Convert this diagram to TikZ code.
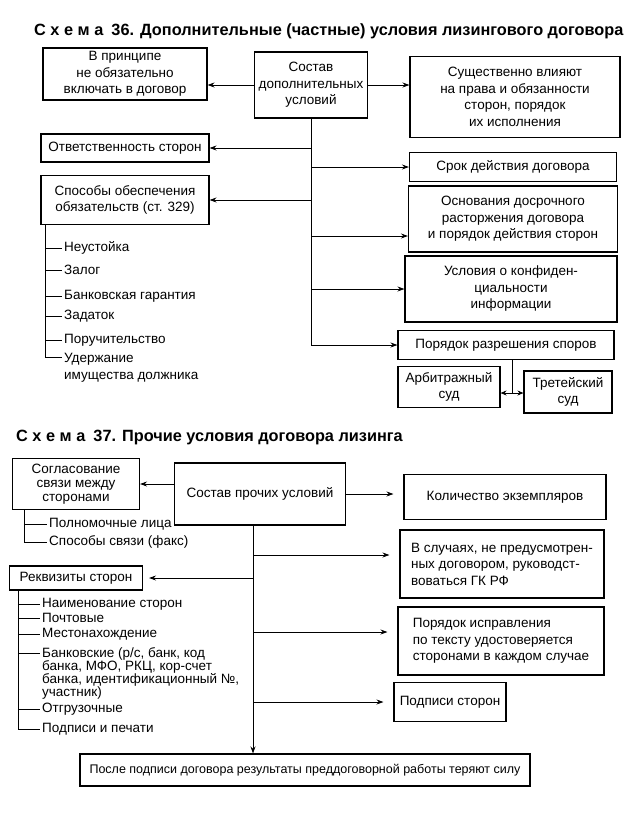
\documentclass[tikz,border=0pt]{standalone}
\usepackage{fontspec}
\setmainfont{Liberation Sans}
\usetikzlibrary{arrows.meta,positioning,calc}

\begin{document}
\begin{tikzpicture}[
          x=1pt, y=-1pt,
          lbl/.style={font=\fontsize{13.5}{16.5}\selectfont, align=center},
          box/.style={lbl, draw, line width=1.1pt, inner sep=2pt},
          item/.style={font=\fontsize{13.5}{16}\selectfont, anchor=west, align=left, inner sep=2pt},
          ttl/.style={font=\fontsize{16.3}{18}\selectfont\bfseries, anchor=west, inner sep=0pt},
          ln/.style={line width=0.9pt},
          arr/.style={ln, -{Stealth[length=7pt,width=5pt]}},
          arr2/.style={arr, shorten >=10pt}
      ]
        \useasboundingbox (0,0) rectangle (632,819);

        \node[ttl] (t36) at (34,31) {С\ х\ е\ м\ а\enspace 36. Дополнительные (частные) условия лизингового договора};

        \node[box, minimum width=164pt, minimum height=52pt] (nov) at (125,74) {В принципе\\не обязательно\\включать в договор};
        \node[box, minimum width=113pt, minimum height=66pt] (sost) at (311,85) {Состав\\дополнительных\\условий};
        \node[box, minimum width=210pt, minimum height=81pt] (sush) at (515,97) {Существенно влияют\\на права и обязанности\\сторон, порядок\\их исполнения};
        \node[box, minimum width=168pt, minimum height=28pt] (otv) at (125,148) {Ответственность сторон};
        \node[box, minimum width=207pt, minimum height=29pt] (srok) at (513,167) {Срок действия договора};
        \node[box, minimum width=168pt, minimum height=49pt] (sposob) at (125,200) {Способы обеспечения\\обязательств (ст. 329)};
        \node[box, minimum width=209pt, minimum height=66pt] (osnov) at (513,219) {Основания досрочного\\расторжения договора\\и порядок действия сторон};
        \node[box, minimum width=212pt, minimum height=66pt] (konf) at (511,289) {Условия о конфиден-\\циальности\\информации};
        \node[box, minimum width=216pt, minimum height=29pt] (spor) at (506,345) {Порядок разрешения споров};
        \node[box, minimum width=102pt, minimum height=41pt] (arb) at (449,387) {Арбитражный\\суд};
        \node[box, minimum width=88pt, minimum height=42pt] (tret) at (568,392) {Третейский\\суд};

        \node[item] (neu) at (62,248) {Неустойка};
        \node[item] (zal) at (62,270) {Залог};
        \node[item] (bg) at (62,296) {Банковская гарантия};
        \node[item] (zad) at (62,316) {Задаток};
        \node[item] (poruch) at (62,340) {Поручительство};
        \node[item, font=\fontsize{13.5}{17}\selectfont, anchor=north west] (uder) at (62,351) {Удержание\\имущества должника};

        \draw[arr] (sost.west) -- (sost.west -| nov.east);
        \draw[arr] (sost.east) -- (sost.east -| sush.west);
        \draw[arr] (sost.south) |- (spor.west);
        \draw[arr] (sost.south |- otv.east) -- (otv.east);
        \draw[arr] (sost.south |- srok.west) -- (srok.west);
        \draw[arr] (sost.south |- sposob.east) -- (sposob.east);
        \coordinate (b36) at (311,236);
        \draw[arr] (b36) -- (b36 -| osnov.west);
        \draw[arr] (sost.south |- konf.west) -- (konf.west);

        \coordinate (sud) at (512,393);
        \draw[ln] (spor.south -| sud) -- (sud);
        \draw[ln, {Stealth[length=6pt,width=5pt]}-{Stealth[length=6pt,width=5pt]}] (arb.east |- sud) -- (tret.west |- sud);

        \coordinate (l36) at ([xshift=5pt]sposob.south west);
        \draw[ln] (l36) |- ([yshift=-6pt]uder.north west);
        \draw[ln] (l36 |- neu.west) -- (neu.west);
        \draw[ln] (l36 |- zal.west) -- (zal.west);
        \draw[ln] (l36 |- bg.west) -- (bg.west);
        \draw[ln] (l36 |- zad.west) -- (zad.west);
        \draw[ln] (l36 |- poruch.west) -- (poruch.west);

        \node[ttl] (t37) at (16,437) {С\ х\ е\ м\ а\enspace 37. Прочие условия договора лизинга};

        \node[box, font=\fontsize{13.5}{14}\selectfont, minimum width=127pt, minimum height=51pt] (sogl) at (76,484) {Согласование\\связи между\\сторонами};
        \node[box, minimum width=171pt, minimum height=62pt] (prochie) at (260,494) {Состав прочих условий};
        \node[box, minimum width=202pt, minimum height=45pt] (kolvo) at (505,497) {Количество экземпляров};
        \node[box, align=left, minimum width=204pt, minimum height=68pt] (sluch) at (502,564) {В случаях, не предусмотрен-\\ных договором, руководст-\\воваться ГК РФ};
        \node[box, minimum width=133pt, minimum height=24pt] (rekv) at (76,578) {Реквизиты сторон};
        \node[box, align=left, minimum width=206pt, minimum height=68pt] (ispr) at (501,641) {Порядок исправления\\по тексту удостоверяется\\сторонами в каждом случае};
        \node[box, minimum width=112pt, minimum height=39pt] (podp) at (450,702) {Подписи сторон};
        \node[box, font=\fontsize{12.5}{15}\selectfont, minimum width=450pt, minimum height=32pt] (posle) at (305,770) {После подписи договора результаты преддоговорной работы теряют силу};

        \node[item] (poln) at (47,524) {Полномочные лица};
        \node[item] (svyaz) at (47,542) {Способы связи (факс)};
        \node[item] (naim) at (40,604) {Наименование сторон};
        \node[item] (pocht) at (40,618) {Почтовые};
        \node[item] (mesto) at (40,634) {Местонахождение};
        \node[item, font=\fontsize{13.5}{13}\selectfont, anchor=north west] (bankr) at (40,645) {Банковские (р/с, банк, код\\банка, МФО, РКЦ, кор-счет\\банка, идентификационный №,\\участник)};
        \node[item] (otgr) at (40,709) {Отгрузочные};
        \node[item] (pech) at (40,729) {Подписи и печати};

        \coordinate (tr37) at ([xshift=-7pt]prochie.south);
        \draw[arr] (sogl.east -| prochie.west) -- (sogl.east);
        \draw[arr2] (prochie.east) -- (prochie.east -| kolvo.west);
        \draw[arr] (tr37) -- (tr37 |- posle.north);
        \coordinate (c1) at (253,555);
        \draw[arr2] (c1) -- (c1 -| sluch.west);
        \draw[arr, shorten >=6pt] (tr37 |- rekv.east) -- (rekv.east);
        \coordinate (c3) at (253,632);
        \draw[arr2] (c3) -- (c3 -| ispr.west);
        \draw[arr2] (tr37 |- podp.west) -- (podp.west);

        \coordinate (l37) at ([xshift=12pt]sogl.south west);
        \draw[ln] (l37) |- (svyaz.west);
        \draw[ln] (l37 |- poln.west) -- (poln.west);

        \coordinate (r37) at ([xshift=9pt]rekv.south west);
        \draw[ln] (r37) |- (pech.west);
        \draw[ln] (r37 |- naim.west) -- (naim.west);
        \draw[ln] (r37 |- pocht.west) -- (pocht.west);
        \draw[ln] (r37 |- mesto.west) -- (mesto.west);
        \draw[ln] ([yshift=-8pt]bankr.north west -| r37) -- ([yshift=-8pt]bankr.north west);
        \draw[ln] (r37 |- otgr.west) -- (otgr.west);
      \end{tikzpicture}
\end{document}
